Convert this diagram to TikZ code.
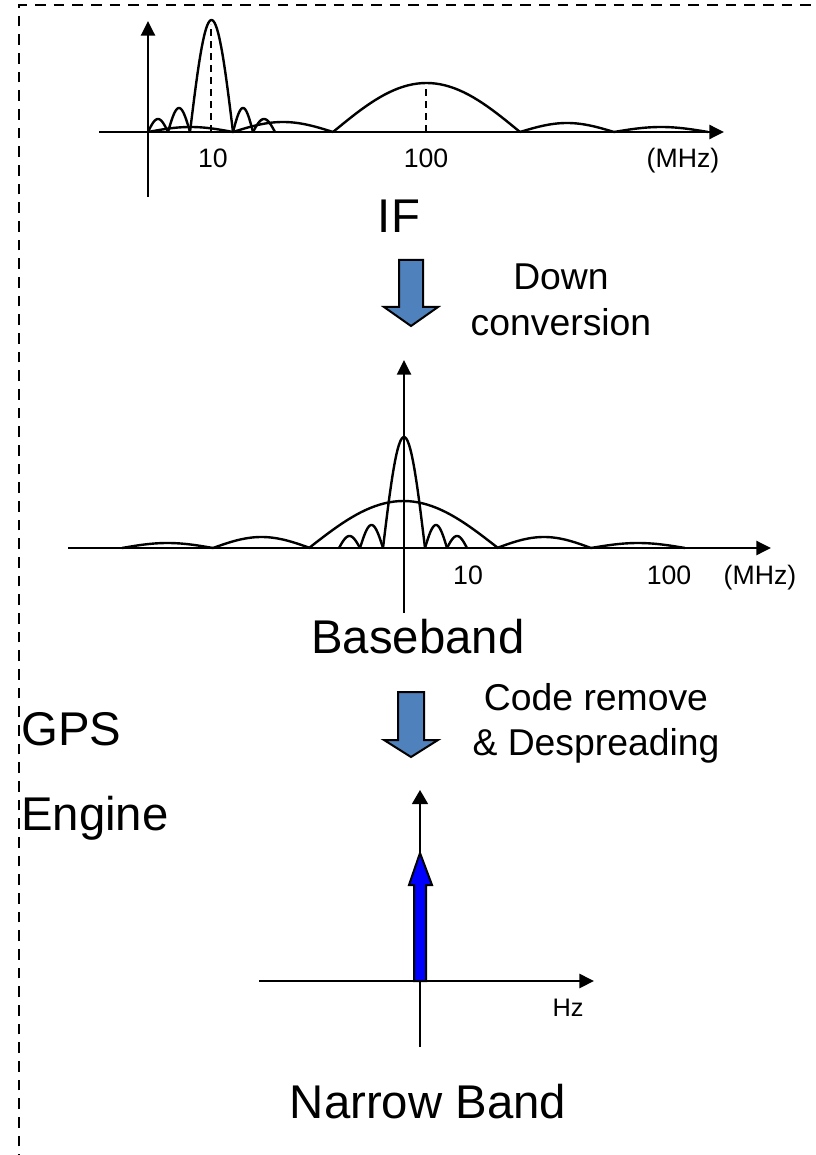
\documentclass[tikz,border=0pt]{standalone}
\usepackage{fontspec}
\setmainfont{Liberation Sans}
\usetikzlibrary{arrows.meta}
\newcommand{\lobe}[4]{\draw[curve] plot[domain=0:1,samples=41] ({#1+(#2-#1)*\x},{#4-#3*sin(180*\x)});}
\tikzset{
  curve/.style={line width=1.8pt, line join=round},
  axis/.style={line width=1.8pt, -{Triangle[length=11pt,width=10.5pt]}},
  thinaxis/.style={line width=1.1pt, -{Triangle[length=10.5pt,width=12pt]}},
  guide/.style={line width=1.5pt, dash pattern=on 5.5pt off 3.5pt},
  border/.style={line width=1.5pt, dash pattern=on 8pt off 6pt},
  bigarrow/.style={draw=black, line width=1.5pt, fill={rgb,255:red,79;green,129;blue,189}, line join=miter},
  spike/.style={draw=black, line width=1.5pt, fill={rgb,255:red,0;green,0;blue,255}, line join=miter},
  biglbl/.style={font=\fontsize{35.5pt}{42pt}\selectfont, anchor=base, inner sep=0pt},
  midlbl/.style={font=\fontsize{28pt}{33pt}\selectfont, anchor=base, inner sep=0pt},
  smalllbl/.style={font=\fontsize{20pt}{24pt}\selectfont, anchor=base, inner sep=0pt},
}
\begin{document}
\begin{tikzpicture}[x=0.75pt,y=-0.75pt]
\useasboundingbox (0,0) rectangle (816,1155);
\clip (0,0) rectangle (816,1155);
% border
\draw[border] (19,1165) -- (19,5) -- (830,5);

% ---------- IF panel ----------
\lobe{148}{233}{5}{132}
\lobe{233}{333}{10}{132}
\lobe{333}{520}{49}{132}
\lobe{520}{614}{9}{132}
\lobe{614}{708}{5}{132}
\lobe{148}{168}{13}{132}
\lobe{168}{190}{24}{132}
\lobe{190}{233}{112}{132}
\lobe{233}{253}{24}{132}
\lobe{253}{275}{13}{132}
\draw[guide] (211,132) -- (211,24);
\draw[guide] (426,132) -- (426,86);
\coordinate (x1s) at (99,132);
\coordinate (x1e) at (724,132);
\coordinate (y1s) at (148,197);
\coordinate (y1e) at (148,21);
\draw[axis] (x1s) -- (x1e);
\draw[axis] (y1s) -- (y1e);
\node[smalllbl] (t10a) at (213,168) {10};
\node[smalllbl] (t100a) at (426,168) {100};
\node[smalllbl] (mhza) at (683,168) {(MHz)};
\node[biglbl] (if) at (399,233) {IF};

% down conversion arrow
\draw[bigarrow] (399,260) -- (423,260) -- (423,307) -- (438,307) -- (411,326) -- (384,307) -- (399,307) -- cycle;
\node[midlbl] (down) at (561,290) {Down};
\node[midlbl] (conv) at (561,335) {conversion};

% ---------- Baseband panel ----------
\lobe{122}{213}{5}{548}
\lobe{213}{310}{11}{548}
\lobe{309}{498}{47}{548}
\lobe{497}{591}{11}{548}
\lobe{591}{685}{5}{548}
\lobe{339}{360}{12}{548}
\lobe{360}{383}{23}{548}
\lobe{383}{425}{111}{548}
\lobe{425}{447}{23}{548}
\lobe{447}{467}{12}{548}
\coordinate (x2s) at (68,548);
\coordinate (x2e) at (771,548);
\coordinate (y2s) at (404,613);
\coordinate (y2e) at (404,360);
\draw[axis] (x2s) -- (x2e);
\draw[axis] (y2s) -- (y2e);
\node[smalllbl] (t10b) at (468,584) {10};
\node[smalllbl] (t100b) at (669,584) {100};
\node[smalllbl] (mhzb) at (760,584) {(MHz)};
\node[biglbl] (bb) at (418,653) {Baseband};

% despreading arrow
\draw[bigarrow] (398,692) -- (424,692) -- (424,740) -- (438,740) -- (411,757) -- (384,740) -- (398,740) -- cycle;
\node[midlbl] (code) at (596,710) {Code remove};
\node[midlbl] (desp) at (596,755) {\& Despreading};

\node[biglbl, anchor=base west] (gps) at (21,745) {GPS};
\node[biglbl, anchor=base west] (eng) at (21,830) {Engine};

% ---------- Narrow band panel ----------
\coordinate (y3s) at (420,1047);
\coordinate (y3e) at (420,790);
\draw[thinaxis] (y3s) -- (y3e);
\draw[spike] (414,981) -- (414,885) -- (409,885) -- (420,853) -- (432,885) -- (426,885) -- (426,981) -- cycle;
\coordinate (x3s) at (259,981);
\coordinate (x3e) at (594,981);
\draw[axis, line width=2pt] (x3s) -- (x3e);
\node[smalllbl, font=\fontsize{19pt}{23pt}\selectfont] (hz) at (568,1016) {Hz};
\node[biglbl] (nb) at (428,1118) {Narrow Band};
\end{tikzpicture}
\end{document}
